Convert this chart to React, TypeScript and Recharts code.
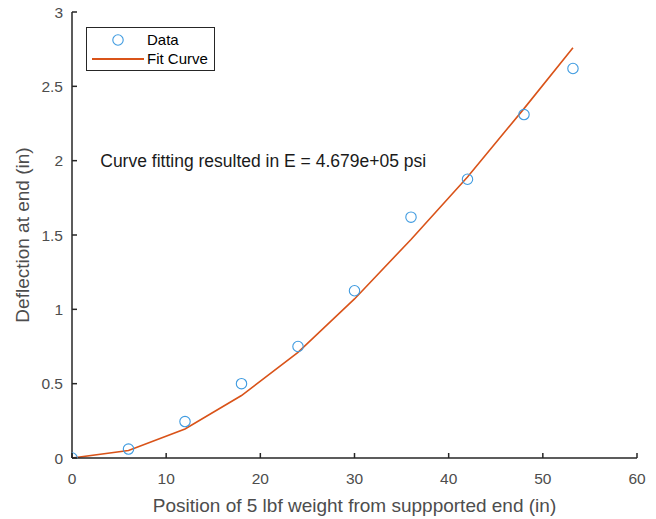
import React from "react";
import {
  ComposedChart,
  Scatter,
  Line,
  XAxis,
  YAxis,
  Legend,
  ReferenceDot,
} from "recharts";

// measured positions of the weight (in)
const positions = [0, 6, 12, 18, 24, 30, 36, 42, 48, 53.2];
// measured end deflection (in)
const deflections = [0, 0.06, 0.245, 0.5, 0.75, 1.125, 1.62, 1.875, 2.31, 2.62];
// fitted curve at the same positions
const fitDeflections = [0, 0.05, 0.195, 0.42, 0.71, 1.07, 1.47, 1.89, 2.35, 2.76];

const xTicks = [0, 10, 20, 30, 40, 50, 60];
const yTicks = [0, 0.5, 1, 1.5, 2, 2.5, 3];

const dataPoints = positions.map((x, i) => ({ x, y: deflections[i] }));
const fitPoints = positions.map((x, i) => ({ x, y: fitDeflections[i] }));

const FONT = '"Liberation Sans", Arial, sans-serif';
const AXIS = "#262626";
const TICK_TEXT = "#4d4d4d";
const BLUE = "#3f9be0";
const ORANGE = "#D95319";

const BottomTick = (props: any) => {
  const { x, y, payload } = props;
  return (
    <g>
      <line x1={x} y1={y} x2={x} y2={y - 5} stroke={AXIS} strokeWidth={1.5} />
      <text x={x} y={y + 26} textAnchor="middle" fill={TICK_TEXT} fontSize={15.5} fontFamily={FONT}>
        {payload.value}
      </text>
    </g>
  );
};

const TopTick = (props: any) => {
  const { x, y } = props;
  return <line x1={x} y1={y} x2={x} y2={y + 5} stroke={AXIS} strokeWidth={1.5} />;
};

const LeftTick = (props: any) => {
  const { x, y, payload } = props;
  return (
    <g>
      <line x1={x} y1={y} x2={x + 5} y2={y} stroke={AXIS} strokeWidth={1.5} />
      <text x={x - 9} y={y + 5.5} textAnchor="end" fill={TICK_TEXT} fontSize={15.5} fontFamily={FONT}>
        {payload.value}
      </text>
    </g>
  );
};

const RightTick = (props: any) => {
  const { x, y } = props;
  return <line x1={x} y1={y} x2={x - 5} y2={y} stroke={AXIS} strokeWidth={1.5} />;
};

const Ring = (props: any) => {
  const { cx, cy } = props;
  return <circle cx={cx} cy={cy} r={5.2} fill="none" stroke={BLUE} strokeWidth={1.1} />;
};

const LegendBox = () => (
  <div
    style={{
      border: "1.5px solid #262626",
      background: "#fff",
      padding: "2px 6px 2px 4px",
      fontFamily: FONT,
      fontSize: 15,
      color: "#000",
      lineHeight: "19px",
    }}
  >
    <div style={{ display: "flex", alignItems: "center" }}>
      <svg width={56} height={19}>
        <circle cx={27} cy={10} r={5.2} fill="none" stroke={BLUE} strokeWidth={1.1} />
      </svg>
      <span>Data</span>
    </div>
    <div style={{ display: "flex", alignItems: "center" }}>
      <svg width={56} height={19}>
        <line x1={1} y1={10} x2={53} y2={10} stroke={ORANGE} strokeWidth={2} />
      </svg>
      <span>Fit Curve</span>
    </div>
  </div>
);

const Annotation = (props: any) => {
  const { viewBox } = props;
  return (
    <text x={viewBox.x} y={viewBox.y + 6} fill="#1a1a1a" fontSize={17.5} fontFamily={FONT}>
      Curve fitting resulted in E = 4.679e+05 psi
    </text>
  );
};

export default function App() {
  return (
    <div style={{ position: "absolute", left: 0, top: 0, width: 656, height: 519, background: "#fff" }}>
      <ComposedChart
        width={656}
        height={519}
        margin={{ top: 12, right: 19, left: 0, bottom: 0 }}
      >
        <XAxis
          dataKey="x"
          type="number"
          domain={[0, 60]}
          ticks={xTicks}
          interval={0}
          height={61}
          tickSize={0}
          tickMargin={0}
          tickLine={false}
          tick={<BottomTick />}
          axisLine={{ stroke: AXIS, strokeWidth: 1.5 }}
          allowDataOverflow
          label={{
            value: "Position of 5 lbf weight from suppported end (in)",
            position: "insideBottom",
            offset: 7,
            fill: TICK_TEXT,
            fontSize: 19,
            fontFamily: FONT,
          }}
        />
        <XAxis
          xAxisId="top"
          orientation="top"
          type="number"
          domain={[0, 60]}
          ticks={xTicks}
          interval={0}
          height={0}
          tickSize={0}
          tickMargin={0}
          tickLine={false}
          tick={<TopTick />}
          axisLine={{ stroke: AXIS, strokeWidth: 1.5 }}
        />
        <YAxis
          type="number"
          domain={[0, 3]}
          ticks={yTicks}
          interval={0}
          width={72}
          tickSize={0}
          tickMargin={0}
          tickLine={false}
          tick={<LeftTick />}
          axisLine={{ stroke: AXIS, strokeWidth: 1.5 }}
          allowDataOverflow
          label={{
            value: "Deflection at end (in)",
            angle: -90,
            position: "insideLeft",
            offset: 22,
            style: { textAnchor: "middle" },
            fill: TICK_TEXT,
            fontSize: 19,
            fontFamily: FONT,
          }}
        />
        <YAxis
          yAxisId="right"
          orientation="right"
          type="number"
          domain={[0, 3]}
          ticks={yTicks}
          interval={0}
          width={0}
          tickSize={0}
          tickMargin={0}
          tickLine={false}
          tick={<RightTick />}
          axisLine={{ stroke: AXIS, strokeWidth: 1.5 }}
        />
        <Legend
          layout="horizontal"
          verticalAlign="middle"
          align="center"
          content={<LegendBox />}
          wrapperStyle={{ position: "absolute", left: 86, top: 27, width: "auto", height: "auto" }}
        />
        <Line
          data={fitPoints}
          dataKey="y"
          type="linear"
          stroke={ORANGE}
          strokeWidth={1.6}
          dot={false}
          activeDot={false}
          isAnimationActive={false}
          name="Fit Curve"
        />
        <Scatter
          data={dataPoints}
          dataKey="y"
          shape={<Ring />}
          isAnimationActive={false}
          name="Data"
        />
        <ReferenceDot x={3} y={2} r={0} stroke="none" fill="none" label={<Annotation />} />
      </ComposedChart>
    </div>
  );
}
